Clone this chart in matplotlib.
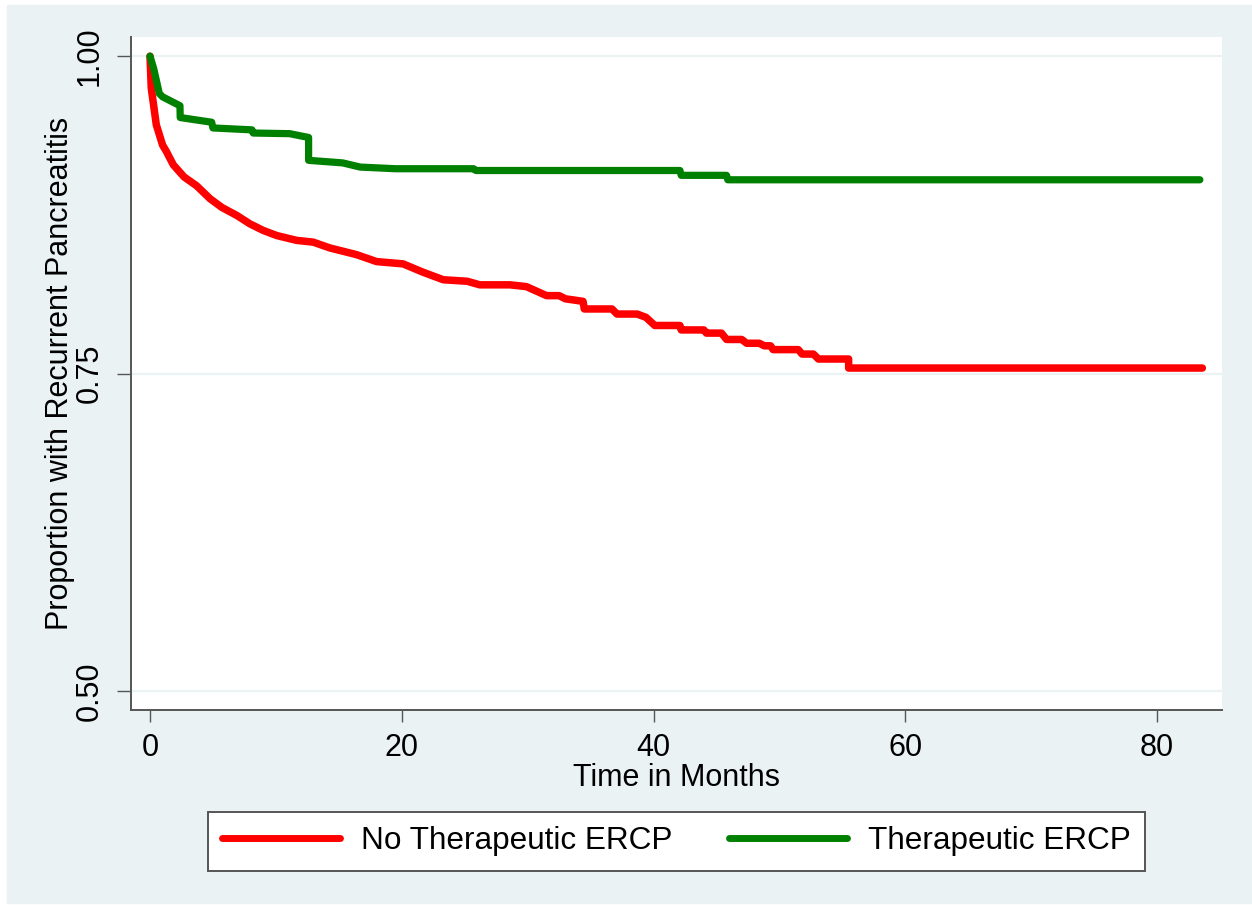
import matplotlib
matplotlib.use("Agg")
import matplotlib.pyplot as plt
from matplotlib.patches import Rectangle

plt.rcParams["font.family"] = ["Liberation Sans", "DejaVu Sans"]

# Kaplan-Meier estimates (months, proportion free of recurrence)
no_ther_t = [0, 0.1, 0.5, 1.0, 1.3, 1.85, 2.7, 3.7, 4.77, 5.7, 6.9, 7.94, 9.0, 10.07,
             11.65, 12.97, 14.3, 16.4, 18.0, 20.1, 21.7, 23.3, 25.2, 26.2, 28.6, 29.9,
             31.5, 32.5, 33.0, 34.4, 34.5, 36.7, 37.1, 38.7, 39.4, 40.1, 42.1, 42.2,
             44.0, 44.2, 45.4, 45.8, 47.0, 47.4, 48.4, 48.8, 49.3, 49.5, 51.5, 51.8,
             52.7, 53.1, 55.5, 55.5, 83.6]
no_ther_s = [1.0, 0.975, 0.946, 0.930, 0.925, 0.9145, 0.905, 0.898, 0.8878, 0.881,
             0.8746, 0.868, 0.8628, 0.8588, 0.855, 0.8536, 0.849, 0.8438, 0.8383,
             0.8365, 0.8299, 0.824, 0.8228, 0.820, 0.820, 0.8186, 0.8115, 0.8115,
             0.809, 0.807, 0.801, 0.801, 0.797, 0.797, 0.7944, 0.788, 0.788, 0.7845,
             0.7845, 0.782, 0.782, 0.777, 0.777, 0.774, 0.774, 0.772, 0.772, 0.769,
             0.769, 0.7655, 0.7655, 0.7616, 0.7616, 0.7545, 0.7545]

ther_t = [0, 0.3, 0.74, 1.0, 2.38, 2.4, 4.9, 5.0, 8.1, 8.2, 11.1, 12.6, 12.6, 15.3,
          16.7, 19.5, 25.7, 25.9, 42.1, 42.2, 45.8, 45.9, 83.4]
ther_s = [1.0, 0.99, 0.9706, 0.968, 0.961, 0.9517, 0.948, 0.9435, 0.942, 0.9395,
          0.939, 0.936, 0.918, 0.916, 0.9127, 0.9114, 0.9114, 0.910, 0.910, 0.9062,
          0.9062, 0.9027, 0.9027]

series_labels = ["No Therapeutic ERCP", "Therapeutic ERCP"]
y_ticks = [0.50, 0.75, 1.00]
x_ticks = [0, 20, 40, 60, 80]

BG = "#EAF2F3"
SPINE = "#555555"
FS = 22

fig = plt.figure(figsize=(12.52, 9.07), dpi=100, facecolor="white")
fig.patches.append(Rectangle((7 / 1252, 4 / 907), 1 - 7 / 1252, 1 - 9 / 907,
                             transform=fig.transFigure, color=BG, zorder=-10))

ax = fig.add_axes([131 / 1252, 1 - 710 / 907, (1222 - 131) / 1252, (710 - 37) / 907])
ax.set_facecolor("white")

for yv in y_ticks:
    ax.axhline(yv, color=BG, lw=1.6, zorder=1)

ax.plot(no_ther_t, no_ther_s, color="#FF0000", lw=5.4, solid_capstyle="round",
        solid_joinstyle="round", label=series_labels[0], zorder=3)
ax.plot(ther_t, ther_s, color="#008000", lw=5.2, solid_capstyle="round",
        solid_joinstyle="round", label=series_labels[1], zorder=3)

ax.set_xlim(-1.509, 85.16)
ax.set_ylim(0.4853, 1.0151)

ax.spines["top"].set_visible(False)
ax.spines["right"].set_visible(False)
for s in ("left", "bottom"):
    ax.spines[s].set_color(SPINE)
    ax.spines[s].set_linewidth(1.4)

ax.set_xticks(x_ticks)
ax.set_xticklabels([str(v) for v in x_ticks], fontsize=FS)
ax.set_yticks(y_ticks)
ax.set_yticklabels([f"{v:.2f}" for v in y_ticks], fontsize=FS, rotation=90, va="center")
ax.tick_params(axis="y", length=10, width=1, color=SPINE, pad=9)
ax.tick_params(axis="x", length=8.6, width=1, color=SPINE, pad=8)

ax.set_xlabel("Time in Months", fontsize=FS, labelpad=0)
ax.set_ylabel("Proportion with Recurrent Pancreatitis", fontsize=FS, labelpad=0)

leg = fig.legend(loc="center", bbox_to_anchor=(676.5 / 1252, 1 - 841.5 / 907), ncol=2,
                 fontsize=22.7, frameon=True, fancybox=False, edgecolor=SPINE,
                 framealpha=1, facecolor="white",
                 handlelength=3.75, handletextpad=0.67, columnspacing=1.78,
                 borderpad=0.45, borderaxespad=0)
leg.get_frame().set_linewidth(1.4)
for h in leg.get_lines():
    h.set_linewidth(5)

fig.savefig("out.png", dpi=100, facecolor=fig.get_facecolor())
